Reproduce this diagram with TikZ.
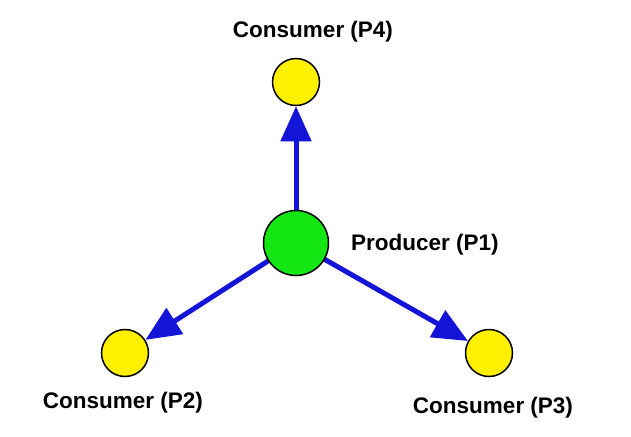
\documentclass[tikz,border=0pt]{standalone}
\usepackage{fontspec}
\setmainfont{Liberation Sans}
\usetikzlibrary{arrows.meta}
\definecolor{arrowblue}{RGB}{20,20,215}
\definecolor{prodgreen}{RGB}{20,230,20}
\definecolor{consyellow}{RGB}{255,240,0}
\begin{document}
\begin{tikzpicture}[x=1pt,y=-1pt,
  consumer/.style={circle,draw=black,line width=1.5pt,fill=consyellow,minimum size=47pt,inner sep=0pt},
  producer/.style={circle,draw=black,line width=1.5pt,fill=prodgreen,minimum size=65pt,inner sep=0pt},
  lbl/.style={font=\fontsize{22.5}{27}\selectfont\bfseries,inner sep=0pt},
  flow/.style={draw=arrowblue,line width=5pt,-{Triangle[length=35pt,width=30pt]},fill=arrowblue}]
\useasboundingbox[fill=white] (0,0) rectangle (631,436);
\node[consumer] (p4) at (296,82) {};
\node[consumer] (p2) at (125,353) {};
\node[consumer] (p3) at (489,353) {};
\draw[flow] (296,243) -- (p4);
\draw[flow] (296,243) -- (p2);
\draw[flow] (296,243) -- (p3);
\node[producer] (p1) at (296,243) {};
\node[lbl] (l4) at (313,32) {Consumer (P4)};
\node[lbl,anchor=west] (l1) at (351,245) {Producer (P1)};
\node[lbl] (l2) at (123,403) {Consumer (P2)};
\node[lbl] (l3) at (493,408) {Consumer (P3)};
\end{tikzpicture}
\end{document}
